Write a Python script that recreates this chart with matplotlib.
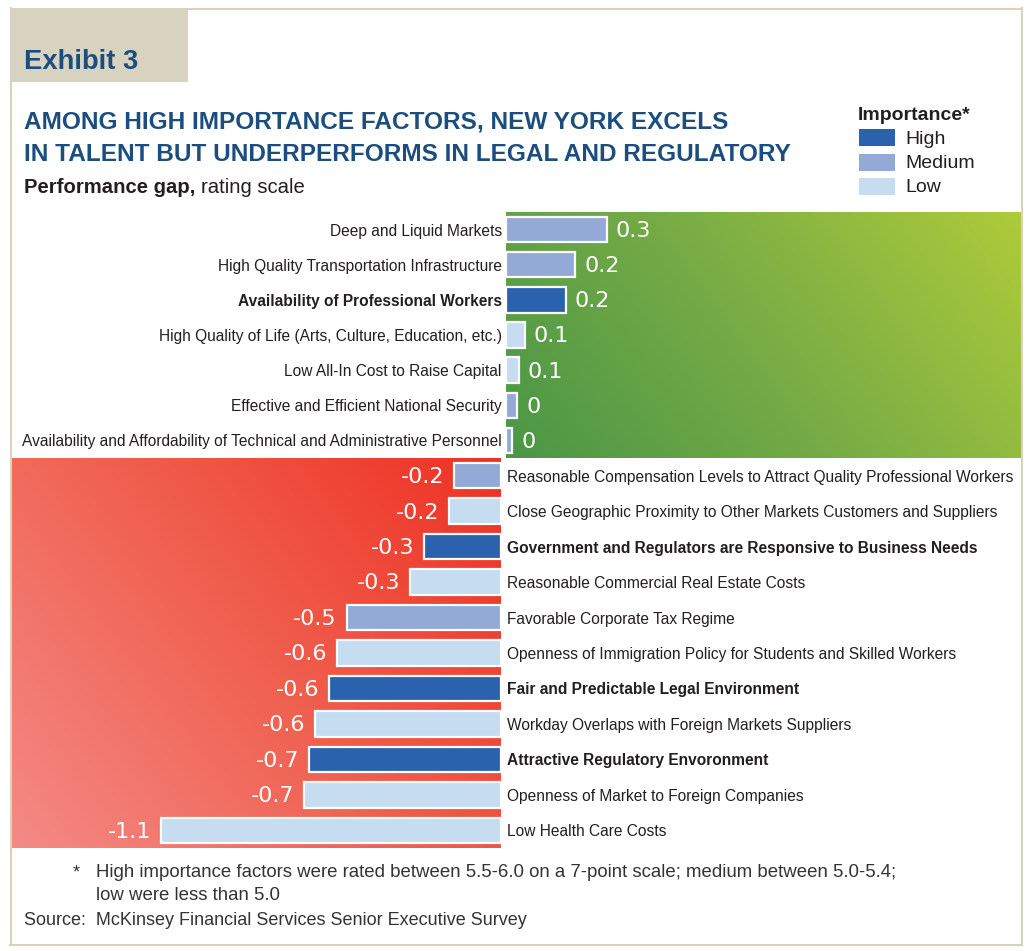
import matplotlib
matplotlib.use("Agg")
import matplotlib.pyplot as plt
import numpy as np
from matplotlib.patches import Rectangle
from matplotlib.colors import LinearSegmentedColormap

plt.rcParams["font.family"] = ["Liberation Sans", "DejaVu Sans"]

# ---------------------------------------------------------------------------
# Data (read off the exhibit)
# ---------------------------------------------------------------------------

pos_factors = [
    "Deep and Liquid Markets",
    "High Quality Transportation Infrastructure",
    "Availability of Professional Workers",
    "High Quality of Life (Arts, Culture, Education, etc.)",
    "Low All-In Cost to Raise Capital",
    "Effective and Efficient National Security",
    "Availability and Affordability of Technical and Administrative Personnel",
]
pos_gap = [0.32, 0.22, 0.19, 0.06, 0.04, 0.035, 0.02]
pos_labels = ["0.3", "0.2", "0.2", "0.1", "0.1", "0", "0"]
pos_importance = ["Medium", "Medium", "High", "Low", "Low", "Medium", "Medium"]

neg_factors = [
    "Reasonable Compensation Levels to Attract Quality Professional Workers",
    "Close Geographic Proximity to Other Markets Customers and Suppliers",
    "Government and Regulators are Responsive to Business Needs",
    "Reasonable Commercial Real Estate Costs",
    "Favorable Corporate Tax Regime",
    "Openness of Immigration Policy for Students and Skilled Workers",
    "Fair and Predictable Legal Environment",
    "Workday Overlaps with Foreign Markets Suppliers",
    "Attractive Regulatory Envoronment",
    "Openness of Market to Foreign Companies",
    "Low Health Care Costs",
]
neg_gap = [-0.15, -0.165, -0.245, -0.29, -0.49, -0.52, -0.545, -0.59, -0.61, -0.625, -1.08]
neg_labels = ["-0.2", "-0.2", "-0.3", "-0.3", "-0.5", "-0.6", "-0.6", "-0.6", "-0.7", "-0.7", "-1.1"]
neg_importance = ["Medium", "Low", "High", "Low", "Medium", "Low", "High", "Low", "High", "Low", "Low"]

IMPORTANCE = ["High", "Medium", "Low"]
IMP_COLORS = {"High": "#2a62ae", "Medium": "#93aad6", "Low": "#c6dcf1"}

# ---------------------------------------------------------------------------
# Layout helpers (pixel positions on a 1028 x 951 canvas)
# ---------------------------------------------------------------------------

W, H = 1028, 951
PX_PER_UNIT = 315
NAVY = "#1b4e7e"
TEXT = "#231f20"
BEIGE = "#d8d3c1"
LABEL_SIZE = 11.2


def fx(x):
    return x / W


def fy(y):
    return 1 - y / H


def ax_rect(left, top, right, bottom):
    return [left / W, 1 - bottom / H, (right - left) / W, (bottom - top) / H]


def paint_gradient(ax, colors, wx, wy):
    u = np.linspace(0, 1, 300)
    U, V = np.meshgrid(u, u)
    T = (wx * U + wy * V) / (wx + wy)
    cmap = LinearSegmentedColormap.from_list("bg", colors)
    x0, x1 = ax.get_xlim()
    y0, y1 = ax.get_ylim()
    ax.imshow(T, cmap=cmap, extent=[x0, x1, y0, y1], origin="lower",
              aspect="auto", zorder=0, interpolation="bilinear")
    ax.set_xlim(x0, x1)
    ax.set_ylim(y0, y1)


def clean(ax):
    for s in ax.spines.values():
        s.set_visible(False)
    ax.set_xticks([])
    ax.tick_params(axis="y", length=0)


fig = plt.figure(figsize=(W / 100, H / 100), dpi=100)

# ---------------------------------------------------------------------------
# Frame and headings
# ---------------------------------------------------------------------------

fig.patches.append(Rectangle((fx(10), fy(82)), fx(178), 74 / H, transform=fig.transFigure,
                             facecolor=BEIGE, edgecolor="none", zorder=0))
for (xa, ya, xb, yb) in [(188, 8.5, 1022, 8.5), (10.5, 8, 10.5, 945), (1022, 8, 1022, 945),
                         (10, 945, 1022, 945)]:
    fig.add_artist(plt.Line2D([fx(xa), fx(xb)], [fy(ya), fy(yb)], transform=fig.transFigure,
                              color=BEIGE, lw=1.5))

fig.text(fx(24), fy(69), "Exhibit 3", fontsize=19.7, fontweight="bold", color=NAVY, va="baseline")
fig.text(fx(24), fy(128.5), "AMONG HIGH IMPORTANCE FACTORS, NEW YORK EXCELS",
         fontsize=17.6, fontweight="bold", color=NAVY, va="baseline")
fig.text(fx(24), fy(161), "IN TALENT BUT UNDERPERFORMS IN LEGAL AND REGULATORY",
         fontsize=17.6, fontweight="bold", color=NAVY, va="baseline")

t_bold = fig.text(fx(24), fy(193), "Performance gap,", fontsize=14.6, fontweight="bold",
                  color=TEXT, va="baseline")
renderer = fig.canvas.get_renderer()
bb = t_bold.get_window_extent(renderer)
fig.text(bb.x1 / W + fx(6), fy(193), "rating scale", fontsize=14.6, color=TEXT, va="baseline")

# legend
fig.text(fx(858), fy(120), "Importance*", fontsize=14, fontweight="bold", color=TEXT, va="baseline")
for i, imp in enumerate(IMPORTANCE):
    top = 129 + i * 24.5
    fig.patches.append(Rectangle((fx(859), fy(top + 17)), 36 / W, 17 / H,
                                 transform=fig.transFigure, facecolor=IMP_COLORS[imp],
                                 edgecolor="none"))
    fig.text(fx(905), fy(top + 14.5), imp, fontsize=14, color=TEXT, va="baseline")

# ---------------------------------------------------------------------------
# Positive gaps (green panel)
# ---------------------------------------------------------------------------

ax_p = fig.add_axes(ax_rect(506, 212, 1021, 458))
ax_p.set_xlim(0, (1021 - 506) / PX_PER_UNIT)
ax_p.set_ylim(len(pos_gap) - 0.5, -0.5)
paint_gradient(ax_p, ["#4a9647", "#79ad45", "#aecb3a"], 1.0, 0.35)
yp = np.arange(len(pos_gap))
ax_p.barh(yp, pos_gap, height=0.72, color=[IMP_COLORS[i] for i in pos_importance],
          edgecolor="white", linewidth=1.6, zorder=2)
for y, v, lab in zip(yp, pos_gap, pos_labels):
    ax_p.annotate(lab, (v, y), xytext=(6.5, -1), textcoords="offset points",
                  ha="left", va="center", fontsize=16, color="white", family="DejaVu Sans")
clean(ax_p)
ax_p.set_yticks(yp, labels=pos_factors, fontsize=LABEL_SIZE, color=TEXT)
ax_p.tick_params(axis="y", pad=3)
for lab, imp in zip(ax_p.get_yticklabels(), pos_importance):
    if imp == "High":
        lab.set_fontweight("bold")

# ---------------------------------------------------------------------------
# Negative gaps (red panel)
# ---------------------------------------------------------------------------

ax_n = fig.add_axes(ax_rect(11, 458, 501, 848))
ax_n.set_xlim(-(501 - 11) / PX_PER_UNIT, 0)
ax_n.set_ylim(len(neg_gap) - 0.5, -0.5)
paint_gradient(ax_n, ["#f48a86", "#f0604f", "#ee3124"], 1.0, 0.6)
yn = np.arange(len(neg_gap))
ax_n.barh(yn, neg_gap, height=0.72, color=[IMP_COLORS[i] for i in neg_importance],
          edgecolor="white", linewidth=1.6, zorder=2)
for y, v, lab in zip(yn, neg_gap, neg_labels):
    ax_n.annotate(lab, (v, y), xytext=(-7, -1), textcoords="offset points",
                  ha="right", va="center", fontsize=16, color="white", family="DejaVu Sans")
clean(ax_n)
ax_n.yaxis.tick_right()
ax_n.set_yticks(yn, labels=neg_factors, fontsize=LABEL_SIZE, color=TEXT)
ax_n.tick_params(axis="y", pad=4, labelright=True, labelleft=False)
for lab, imp in zip(ax_n.get_yticklabels(), neg_importance):
    if imp == "High":
        lab.set_fontweight("bold")

# ---------------------------------------------------------------------------
# Notes
# ---------------------------------------------------------------------------

NOTE = "#333333"
fig.text(fx(73), fy(877), "*", fontsize=13, color=NOTE, va="baseline")
fig.text(fx(96), fy(877), "High importance factors were rated between 5.5-6.0 on a 7-point scale; "
         "medium between 5.0-5.4;", fontsize=13.45, color=NOTE, va="baseline")
fig.text(fx(96), fy(900), "low were less than 5.0", fontsize=13.45, color=NOTE, va="baseline")
fig.text(fx(24), fy(925), "Source:  McKinsey Financial Services Senior Executive Survey",
         fontsize=13, color=NOTE, va="baseline")

fig.savefig("out.png", dpi=100)
